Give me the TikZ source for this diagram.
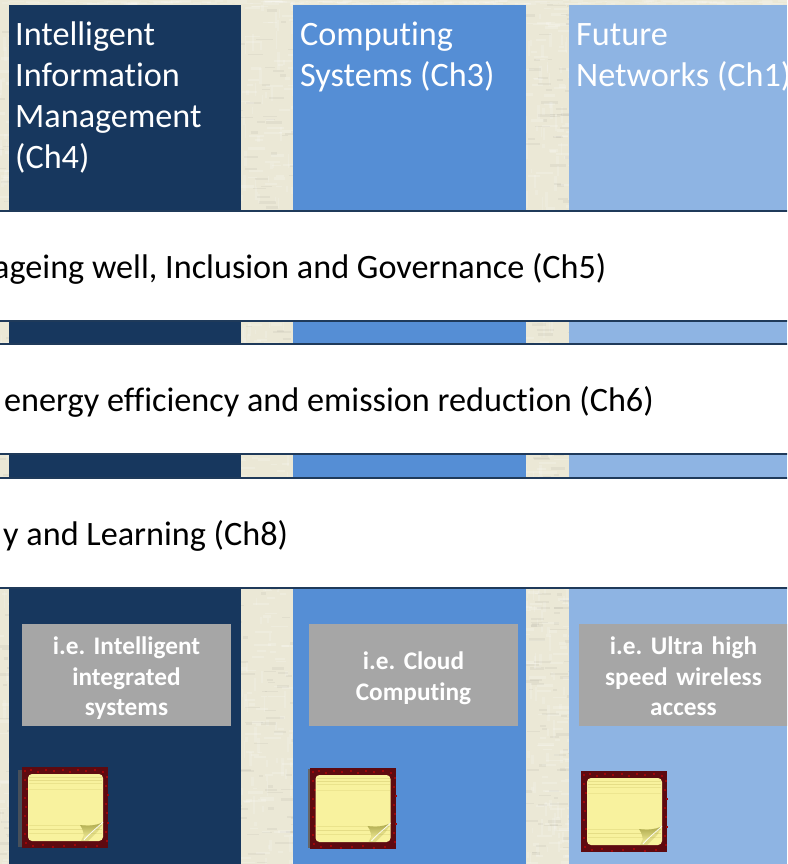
\documentclass[tikz,border=0pt]{standalone}
\usepackage{fontspec}
\setmainfont{Carlito}[Ligatures=NoCommon]
\definecolor{paperbg}{HTML}{EBE8D6}
\definecolor{navycol}{HTML}{17375E}
\definecolor{midcol}{HTML}{558ED5}
\definecolor{lightcol}{HTML}{8EB4E3}
\definecolor{bandline}{HTML}{1F3A5A}
\definecolor{grayfill}{HTML}{A6A6A6}
\definecolor{frameRed}{HTML}{5E0A10}
\definecolor{noteYellow}{HTML}{F5EE92}
\definecolor{noteEdge}{HTML}{F8F29E}
\definecolor{noteLine}{HTML}{DDD57C}
\definecolor{curlDark}{HTML}{A9A548}
\tikzset{
  x=1pt,y=-1pt,
  block/.style={anchor=north west,inner sep=0pt,outer sep=0pt,draw=none},
  coltitle/.style={anchor=north west,inner sep=0pt,align=left,text=white,font=\fontsize{34.2}{41}\selectfont},
  bandbox/.style={block,fill=white,draw=bandline,line width=1.2pt,minimum width=810pt,minimum height=110pt},
  bandtext/.style={anchor=base west,inner sep=0pt,text=black,font=\fontsize{34.2}{41}\selectfont},
  graybox/.style={block,fill=grayfill,minimum width=209pt,text width=209pt,minimum height=102pt,align=center,text=white,font=\frenchspacing\fontsize{25.3}{30.5}\selectfont\bfseries},
  stickynote/.pic={
    \fill[frameRed] (0,0) rectangle (86,81);
    \foreach \sx/\sy in {2/3,8/2,15/4,23/2,31/3,40/2,47/4,55/2,63/3,72/2,80/4,84/9,83/18,85/27,83/36,84/45,85/55,83/64,84/73,2/12,4/21,2/30,3/39,2/48,4/57,2/66,3/75,10/78,20/77,30/79,41/78,52/77,63/79,74/78}
      {\fill[red!40!frameRed] (\sx,\sy) rectangle ++(2,1.5);}
    \fill[noteEdge,rounded corners=4pt] (6,7) rectangle (81,74);
    \foreach \ly/\lo in {10/.6,13/.7,16/.5,22/.4,58/.5,62/.7,66/.5}{\draw[noteLine,opacity=\lo,line width=.8pt] (7,\ly)--(80,\ly);}
    \fill[curlDark,opacity=.3] (59,74) -- (66,60) -- (80,58) -- (76,64) -- (66,74) -- cycle;
    \shade[left color=curlDark,middle color=curlDark!75!noteEdge,right color=noteEdge,shading angle=0]
      (58,58) .. controls (66,59) and (74,59) .. (81,55) .. controls (76,60) and (68,66) .. (62,73)
      .. controls (62,67) and (61,62) .. (58,58) -- cycle;
    \draw[white,line width=.8pt,opacity=.9] (81,55) .. controls (76,60) and (68,66) .. (62,73);
  }
}
\begin{document}
\begin{tikzpicture}
\useasboundingbox (0,0) rectangle (787,864);
\begin{scope}
\clip (0,0) rectangle (787,864);
\node[block,fill=paperbg,minimum width=787pt,minimum height=864pt] (bg) at (0,0) {};
\pgfmathsetseed{17}
\foreach \i in {1,...,1300}{
  \pgfmathsetmacro{\sela}{rnd}
  \ifdim\sela pt<.12pt \pgfmathsetmacro{\xa}{rnd*12-3}\else
  \ifdim\sela pt<.57pt \pgfmathsetmacro{\xa}{236+rnd*60}\else
  \pgfmathsetmacro{\xa}{522+rnd*50}\fi\fi
  \pgfmathsetmacro{\ya}{rnd*864}
  \pgfmathsetmacro{\la}{4+rnd*14}
  \pgfmathsetmacro{\wa}{1+rnd*2}
  \pgfmathsetmacro{\sel}{rnd}
  \ifdim\sel pt<.4pt
    \draw[white,opacity=.18,line width=\wa pt] (\xa,\ya) -- ++(\la,0);
  \else\ifdim\sel pt<.7pt
    \draw[white,opacity=.15,line width=\wa pt] (\xa,\ya) -- ++(0,\la);
  \else
    \draw[black!45!paperbg,opacity=.09,line width=\wa pt] (\xa,\ya) -- ++(\la,0);
  \fi\fi
}
\foreach \i in {1,...,160}{
  \pgfmathsetmacro{\xa}{rnd*787}
  \pgfmathsetmacro{\wa}{.8+rnd*1.5}
  \draw[white,opacity=.15,line width=\wa pt] (\xa,1+rnd*3) -- ++(8+rnd*12,0);
}
\node[block,fill=navycol,minimum width=232pt,minimum height=859pt] (colA) at (9,5) {};
\node[block,fill=midcol,minimum width=233pt,minimum height=859pt] (colB) at (293,5) {};
\node[block,fill=lightcol,minimum width=218pt,minimum height=859pt] (colC) at (569,5) {};

\node[coltitle] (titleA) at (15,22) {Intelligent\\Information\\Management\\(Ch4)};
\node[coltitle] (titleB) at (300,22) {Computing\\Systems (Ch3)};
\node[coltitle] (titleC) at (576,23) {\vphantom{g}Future\\Networks (Ch1)};

\node[bandbox] (bandA) at (-10,211) {};
\node[bandbox] (bandB) at (-10,344) {};
\node[bandbox] (bandC) at (-10,478) {};
\node[bandtext] (textA) at (-7,278) {ageing well, Inclusion and Governance (Ch5)};
\node[bandtext] (textB) at (4,411) {energy efficiency and emission reduction (Ch6)};
\node[bandtext] (textC) at (3,545) {y and Learning (Ch8)};

\node[graybox] (grayA) at (22,624) {\rule{0pt}{24pt}i.e. Intelligent\\integrated\\systems};
\node[graybox] (grayB) at (309,624) {\rule{0pt}{24pt}i.e. Cloud\\Computing};
\node[graybox] (grayC) at (579,624) {\rule{0pt}{24pt}i.e. Ultra high\\speed wireless\\\vphantom{y}access};

\fill[black!65,opacity=.75] (18,770) rectangle (22,847);
\pic at (22,767) {stickynote};
\fill[black!60] (308,769) rectangle (309.5,848);
\pic at (309.5,768) {stickynote};
\pic at (581,771) {stickynote};
\end{scope}
\end{tikzpicture}
\end{document}
